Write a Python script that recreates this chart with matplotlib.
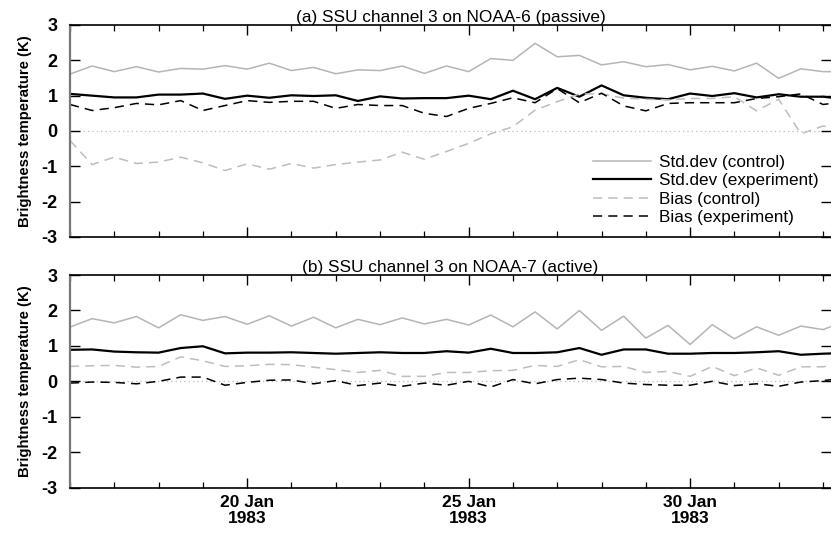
import matplotlib
matplotlib.use("Agg")
from matplotlib import pyplot as plt
import matplotlib.dates as mdates
import pandas as pd

# twice-daily analyses, 16 Jan 1983 00Z onward
times = pd.date_range("1983-01-16 00:00", periods=36, freq="12h")

# (a) NOAA-6, passive
std_ctrl_a = [1.61, 1.84, 1.68, 1.82, 1.67, 1.77, 1.75, 1.85, 1.75, 1.92, 1.71, 1.80,
              1.62, 1.73, 1.71, 1.84, 1.63, 1.84, 1.68, 2.05, 2.00, 2.48, 2.10, 2.14,
              1.87, 1.96, 1.82, 1.88, 1.73, 1.83, 1.70, 1.92, 1.49, 1.76, 1.68, 1.68]
std_exp_a = [1.05, 1.00, 0.95, 0.95, 1.03, 1.03, 1.06, 0.91, 1.00, 0.94, 1.01, 0.99,
             1.01, 0.85, 0.98, 0.92, 0.93, 0.93, 1.00, 0.90, 1.14, 0.90, 1.22, 0.97,
             1.29, 1.01, 0.94, 0.90, 1.06, 0.99, 1.07, 0.95, 1.04, 0.97, 0.97, 0.90]
bias_ctrl_a = [-0.27, -0.95, -0.74, -0.92, -0.88, -0.74, -0.90, -1.12, -0.93, -1.08, -0.92, -1.05,
               -0.95, -0.88, -0.82, -0.60, -0.80, -0.58, -0.35, -0.08, 0.12, 0.59, 0.83, 1.05,
               1.05, 0.93, 0.90, 0.88, 0.92, 0.92, 0.97, 0.57, 0.90, -0.08, 0.14, 0.05]
bias_exp_a = [0.75, 0.58, 0.66, 0.78, 0.74, 0.86, 0.58, 0.72, 0.86, 0.81, 0.84, 0.84,
              0.64, 0.75, 0.72, 0.72, 0.50, 0.41, 0.64, 0.78, 0.94, 0.80, 1.20, 0.80,
              1.07, 0.71, 0.57, 0.78, 0.80, 0.80, 0.80, 0.92, 0.97, 1.05, 0.75, 0.83]

# (b) NOAA-7, active
std_ctrl_b = [1.53, 1.77, 1.65, 1.83, 1.51, 1.88, 1.72, 1.83, 1.61, 1.85, 1.56, 1.81,
              1.51, 1.75, 1.60, 1.79, 1.62, 1.75, 1.59, 1.87, 1.54, 1.96, 1.48, 2.00,
              1.44, 1.84, 1.22, 1.58, 1.04, 1.60, 1.20, 1.54, 1.30, 1.56, 1.46, 1.70]
std_exp_b = [0.89, 0.90, 0.84, 0.82, 0.81, 0.94, 0.99, 0.79, 0.81, 0.81, 0.82, 0.80,
             0.78, 0.80, 0.82, 0.80, 0.80, 0.85, 0.81, 0.92, 0.80, 0.80, 0.82, 0.94,
             0.75, 0.90, 0.90, 0.78, 0.78, 0.80, 0.80, 0.82, 0.85, 0.75, 0.78, 0.80]
bias_ctrl_b = [0.42, 0.44, 0.45, 0.40, 0.42, 0.69, 0.58, 0.42, 0.44, 0.48, 0.47, 0.40,
               0.33, 0.25, 0.31, 0.14, 0.14, 0.25, 0.25, 0.30, 0.31, 0.45, 0.42, 0.61,
               0.41, 0.42, 0.25, 0.28, 0.14, 0.42, 0.16, 0.38, 0.17, 0.41, 0.41, 0.52]
bias_exp_b = [-0.05, -0.02, -0.03, -0.07, 0.00, 0.12, 0.12, -0.11, -0.03, 0.03, 0.04, -0.07,
              0.02, -0.12, -0.05, -0.14, -0.05, -0.11, 0.00, -0.16, 0.05, -0.07, 0.05, 0.09,
              0.05, -0.05, -0.09, -0.11, -0.11, 0.00, -0.12, -0.07, -0.14, -0.02, 0.02, 0.09]

titles = ["(a) SSU channel 3 on NOAA-6 (passive)", "(b) SSU channel 3 on NOAA-7 (active)"]
yticks = [-3, -2, -1, 0, 1, 2, 3]

plt.rcParams["font.family"] = ["Liberation Sans", "DejaVu Sans"]
narrow = ["Liberation Sans Narrow", "Liberation Sans"]

fig = plt.figure(figsize=(8.31, 5.34), dpi=100)
ax_a = fig.add_axes([0.0842, 0.5562, 0.9158, 0.397])
ax_b = fig.add_axes([0.0842, 0.0869, 0.9158, 0.398])

panels = [
    (ax_a, std_ctrl_a, std_exp_a, bias_ctrl_a, bias_exp_a),
    (ax_b, std_ctrl_b, std_exp_b, bias_ctrl_b, bias_exp_b),
]

x0 = pd.Timestamp("1983-01-16 00:00")
x1 = pd.Timestamp("1983-02-02 04:20")

for k, (ax, sc, se, bc, be) in enumerate(panels):
    ax.axhline(0, color="#bbbbbb", lw=0.9, ls=(0, (1, 2.5)), zorder=1)
    ax.plot(times, sc, color="#b5b5b5", lw=1.1, label="Std.dev (control)")
    ax.plot(times, se, color="black", lw=1.6, label="Std.dev (experiment)")
    ax.plot(times, bc, color="#bdbdbd", lw=1.1, ls=(0, (6, 4)), label="Bias (control)")
    ax.plot(times, be, color="black", lw=1.1, ls=(0, (6, 4)), label="Bias (experiment)")

    ax.set_xlim(x0, x1)
    ax.set_ylim(-3, 3)
    ax.set_yticks(yticks)
    ax.set_yticklabels([str(v) for v in yticks], family=narrow, fontweight="bold", fontsize=13)

    ax.xaxis.set_major_locator(mdates.DayLocator(bymonthday=[20, 25, 30]))
    ax.xaxis.set_minor_locator(mdates.DayLocator())
    ax.xaxis.set_major_formatter(mdates.DateFormatter("%d %b\n%Y"))

    ax.tick_params(axis="both", which="major", direction="in", length=7, width=1,
                   top=True, right=True)
    ax.tick_params(axis="x", which="minor", direction="in", length=4.5, width=0.9,
                   top=True, bottom=True)
    ax.tick_params(axis="y", which="major", pad=9)
    ax.tick_params(axis="x", which="major", pad=5)

    ax.spines["left"].set_color("#777777")
    ax.spines["left"].set_linewidth(1.6)
    ax.spines["top"].set_linewidth(1.2)
    ax.spines["bottom"].set_linewidth(1.2)
    ax.spines["right"].set_visible(False)

    ax.set_title(titles[k], fontsize=12.4, pad=1)
    ax.set_ylabel("Brightness temperature (K)", fontsize=10.7, fontweight="bold", labelpad=7)

ax_a.tick_params(axis="x", labelbottom=False)
for lbl in ax_b.get_xticklabels():
    lbl.set_family(narrow)
    lbl.set_fontweight("bold")
    lbl.set_fontsize(12.5)
    lbl.set_linespacing(1.1)

ax_a.legend(loc="lower right", bbox_to_anchor=(1.0, 0.0), frameon=False, fontsize=12.3,
            handlelength=3.4, handletextpad=0.5, labelspacing=0.2, borderpad=0.2)

fig.savefig("out.png", dpi=100)
